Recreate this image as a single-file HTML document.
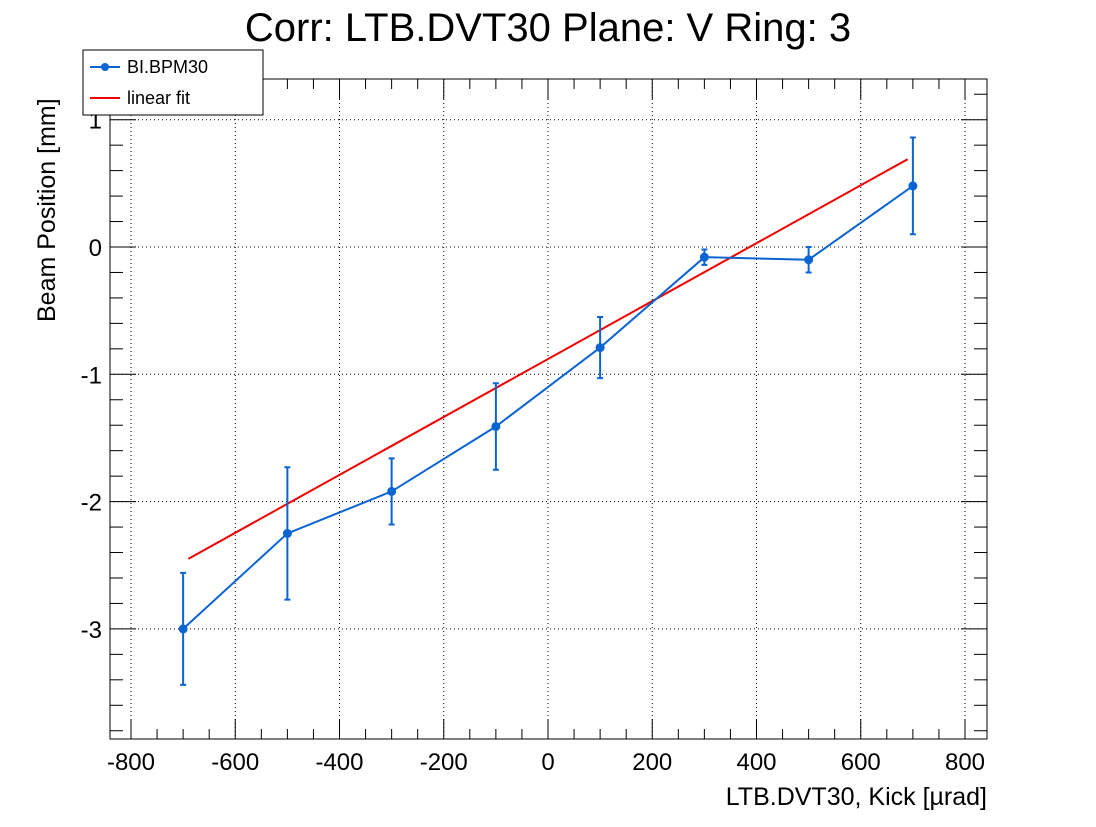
<!DOCTYPE html>
<html><head><meta charset="utf-8"><style>
body{margin:0;background:#fff}
svg text{font-family:"Liberation Sans",sans-serif}
</style></head><body>
<svg id="chart" width="1096" height="822" xmlns="http://www.w3.org/2000/svg">
<rect width="1096" height="822" fill="#fff"/>
<text x="548" y="41" font-size="40" text-anchor="middle">Corr: LTB.DVT30 Plane: V Ring: 3</text>
<g id="grid"></g><g id="axes"></g><g id="marks"></g>
<text transform="translate(55,322) rotate(-90)" font-size="25">Beam Position [mm]</text>
<text x="987" y="805" font-size="25" text-anchor="end">LTB.DVT30, Kick [µrad]</text>
<g>
<rect x="83" y="50" width="180" height="65" fill="#fff" stroke="#000"/>
<line x1="90" y1="67" x2="120" y2="67" stroke="#0a64d2" stroke-width="2"/>
<circle cx="105" cy="67" r="4" fill="#0a64d2"/>
<text x="127" y="73" font-size="18">BI.BPM30</text>
<line x1="90" y1="98" x2="120" y2="98" stroke="#e00" stroke-width="2"/>
<text x="127" y="104" font-size="18">linear fit</text>
</g>
</svg>
<script>
const xs=[-700,-500,-300,-100,100,300,500,700];
const ys=[-3.0,-2.25,-1.92,-1.41,-0.79,-0.08,-0.10,0.48];
const errs=[0.44,0.52,0.26,0.34,0.24,0.06,0.10,0.38];
const fitX=[-690,690];
const fitSlope=0.002275, fitIntercept=-0.88;
const xTicks=[-800,-600,-400,-200,0,200,400,600,800];
const yTicks=[-3,-2,-1,0,1];
const L=110,R=987,T=79,B=739;
const sx=v=>548+v*0.52125, sy=v=>247-v*127.3;
const NS='http://www.w3.org/2000/svg';
function mk(p,t,a){const e=document.createElementNS(NS,t);for(const k in a)e.setAttribute(k,a[k]);document.getElementById(p).appendChild(e);return e;}
let f=mk('axes','rect',{x:L,y:T,width:R-L,height:B-T,fill:'none',stroke:'#000'});


xTicks.forEach(v=>{const x=sx(v);
 let g=mk('grid','line',{x1:x,x2:x,y1:T,y2:B,stroke:'#000','stroke-dasharray':'1,3','stroke-width':1});
 
 
 let t=mk('axes','text',{x:x,y:770,'font-size':24,'text-anchor':'middle'});t.textContent=v;
 
 });
for(let v=-800;v<=800;v+=50){const x=sx(v),len=v%200===0?20:10;
 mk('axes','line',{x1:x,x2:x,y1:B,y2:B-len,stroke:'#000'});mk('axes','line',{x1:x,x2:x,y1:T,y2:T+len,stroke:'#000'});}
yTicks.forEach(v=>{const y=sy(v);
 let g=mk('grid','line',{x1:L,x2:R,y1:y,y2:y,stroke:'#000','stroke-dasharray':'1,3','stroke-width':1});
 
 
 let t=mk('axes','text',{x:102,y:y+9,'font-size':24,'text-anchor':'end'});t.textContent=v;
 
 });
for(let i=-19;i<=6;i++){const v=i*0.2,y=sy(v);if(y<T||y>B)continue;const len=Math.abs(v-Math.round(v))<1e-6?26:13;
 mk('axes','line',{x1:L,x2:L+len,y1:y,y2:y,stroke:'#000'});mk('axes','line',{x1:R,x2:R-len,y1:y,y2:y,stroke:'#000'});}
let fl=mk('marks','line',{x1:sx(fitX[0]),y1:sy(fitIntercept+fitSlope*fitX[0]),x2:sx(fitX[1]),y2:sy(fitIntercept+fitSlope*fitX[1]),stroke:'#e00','stroke-width':2});


let pl=mk('marks','polyline',{points:xs.map((x,i)=>sx(x)+','+sy(ys[i])).join(' '),fill:'none',stroke:'#0a64d2','stroke-width':2});


xs.forEach((x,i)=>{const cx=sx(x),y1=sy(ys[i]+errs[i]),y2=sy(ys[i]-errs[i]);
 let e=mk('marks','path',{d:`M${cx},${y1}V${y2}M${cx-3},${y1}H${cx+3}M${cx-3},${y2}H${cx+3}`,stroke:'#0a64d2','stroke-width':2,fill:'none'});
 
 
 let c=mk('marks','circle',{cx:cx,cy:sy(ys[i]),r:4.5,fill:'#0a64d2'});
 
 });
</script>
</body></html>
